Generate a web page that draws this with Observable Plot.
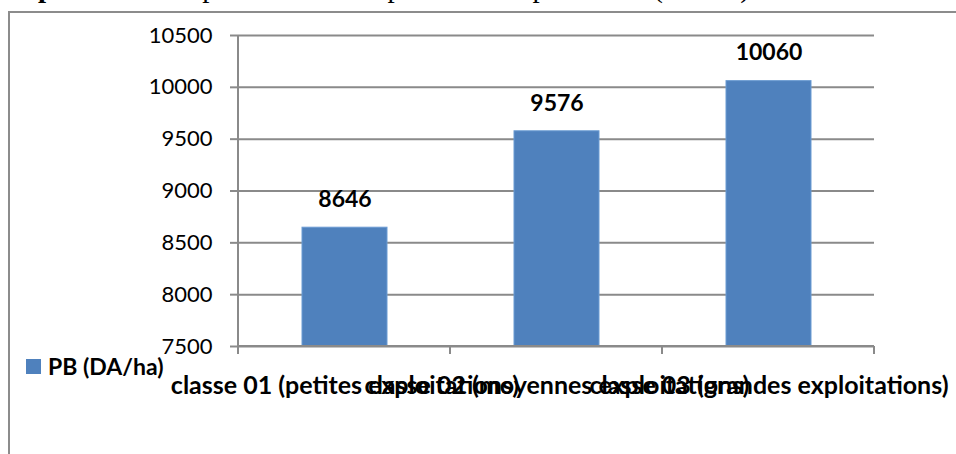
<!DOCTYPE html>
<html>
<head>
<meta charset="utf-8">
<script src="https://cdn.jsdelivr.net/npm/d3@7"></script>
<script src="https://cdn.jsdelivr.net/npm/@observablehq/plot@0.6"></script>
<style>
  html, body { margin: 0; padding: 0; background: #fff; overflow: hidden; }
  #page { position: relative; width: 956px; height: 454px; overflow: hidden; }
  .title { position: absolute; top: -27px; font-family: "Liberation Serif", serif; font-size: 29px; white-space: nowrap; line-height: 29px; color: #000; }
  #title-a { left: -12px; font-weight: bold; }
  #title-b { left: 170px; }
  #frame { position: absolute; left: 8px; top: 11px; width: 1000px; height: 500px; border: 2px solid #8c8c8c; box-sizing: border-box; background: #fff; }
  #chart { position: absolute; left: 0; top: 0; }
  #legend { position: absolute; left: 26px; top: 352px; height: 28px; font-family: Lato, sans-serif; font-weight: bold; font-size: 23px; display: flex; align-items: center; gap: 7px; color: #000; }
  #legend .sw { width: 15px; height: 15px; background: #4f81bd; }
</style>
</head>
<body>
<div id="page">
  <div class="title" id="title-a">Graphe 01 :</div>
  <div class="title" id="title-b">Représentation du produit brut par classe (DA/ha)</div>
  <div id="frame"></div>
  <div id="chart"></div>
  <div id="legend"><span class="sw"></span><span id="legend-label"></span></div>
</div>
<script>
const categories = [
  "classe 01 (petites exploitations)",
  "classe 02 (moyennes exploitations)",
  "classe 03 (grandes exploitations)"
];
const values = [8646, 9576, 10060];
const seriesName = "PB (DA/ha)";
const yTicks = [7500, 8000, 8500, 9000, 9500, 10000, 10500];

const data = categories.map((c, i) => ({category: c, value: values[i]}));
document.getElementById("legend-label").textContent = seriesName;

const gray = "#8a8a8a";
const font = "Lato, sans-serif";

// Category boundary ticks (Excel-style, between categories) and axis lines
function boundaryTicks(index, scales, values, dimensions) {
  const {width, height, marginLeft, marginRight, marginBottom, marginTop} = dimensions;
  const n = categories.length;
  const step = (width - marginLeft - marginRight) / n;
  const y0 = height - marginBottom;
  const g = d3.create("svg:g");
  for (let i = 0; i <= n; i++) {
    const x = marginLeft + i * step;
    g.append("line").attr("x1", x).attr("x2", x).attr("y1", y0).attr("y2", y0 + 8)
      .attr("stroke", gray).attr("stroke-width", 2);
  }
  g.append("line").attr("x1", marginLeft).attr("x2", width - marginRight).attr("y1", y0).attr("y2", y0)
    .attr("stroke", gray).attr("stroke-width", 2);
  g.append("line").attr("x1", marginLeft).attr("x2", marginLeft).attr("y1", marginTop).attr("y2", y0)
    .attr("stroke", gray).attr("stroke-width", 2);
  return g.node();
}

const chart = Plot.plot({
  width: 956,
  height: 454,
  marginLeft: 238,
  marginRight: 82,
  marginTop: 35,
  marginBottom: 108,
  style: {fontFamily: font, background: "transparent", overflow: "visible"},
  x: {domain: categories, paddingInner: 0.6, paddingOuter: 0.3, label: null},
  y: {domain: [7500, 10500], label: null},
  marks: [
    Plot.gridY(yTicks, {stroke: gray, strokeOpacity: 1, strokeWidth: 2}),
    Plot.axisY({ticks: yTicks, tickFormat: d => String(d), tickSize: 8, tickPadding: 18, stroke: gray, strokeWidth: 2, fontSize: 22, fill: "#000", label: null}),
    Plot.barY(data, {x: "category", y1: 7500, y2: "value", fill: "#4f81bd", stroke: "#6b9bd3", strokeWidth: 1}),
    Plot.text(data, {x: "category", y: "value", text: d => String(d.value), dy: -28, fontWeight: "bold", fontSize: 23, fill: "#000"}),
    Plot.axisX({tickSize: 0, tickPadding: 30, fontSize: 25, fontWeight: "bold", fill: "#000", label: null}),
    boundaryTicks
  ]
});
document.getElementById("chart").appendChild(chart);
</script>
</body>
</html>
